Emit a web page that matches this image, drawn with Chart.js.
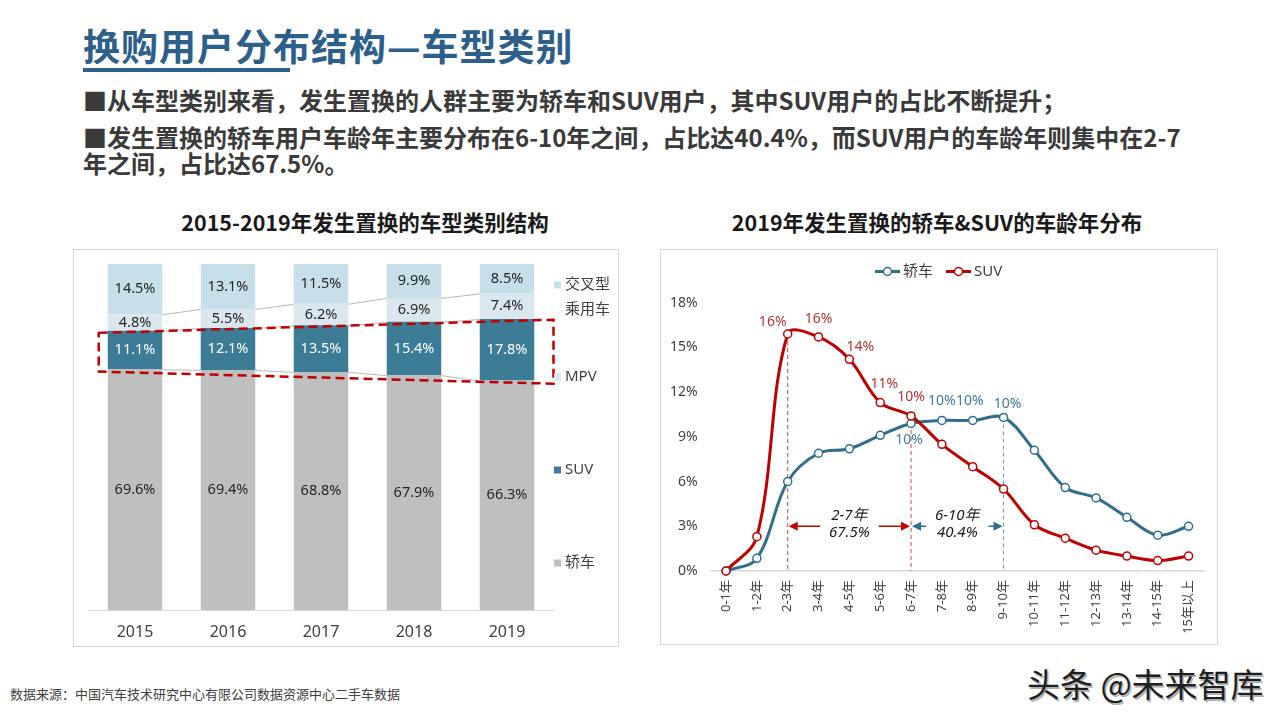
<!DOCTYPE html>
<html>
<head>
<meta charset="utf-8">
<script src="https://cdn.jsdelivr.net/npm/chart.js@4.4.1/dist/chart.umd.min.js"></script>
<style>
  html, body { margin:0; padding:0; background:#fff; }
  body { width:1280px; height:720px; position:relative; overflow:hidden;
         font-family:"Noto Sans","Noto Sans CJK SC",sans-serif; }
  .abs { position:absolute; }
  #title { left:83px; top:24px; font-size:37px; line-height:42px; font-weight:700; color:#2c5f8a;
           letter-spacing:1px; font-family:"Noto Sans CJK SC",sans-serif; white-space:nowrap; }
  #underline { left:83px; top:68px; width:207px; height:4px; background:#2c5f8a; }
  .bullet { left:83px; font-size:24px; font-weight:700; color:#3a3a3a; white-space:nowrap;
            font-family:"Noto Sans CJK SC",sans-serif; }
  .ptitle { top:207px; width:460px; text-align:center; font-size:21.5px; line-height:30px; font-weight:700;
            color:#1a1a1a; font-family:"Noto Sans CJK SC",sans-serif; white-space:nowrap; }
  .panel { box-sizing:border-box; border:1.5px solid #d6d6d6; pointer-events:none; }
  #source { left:10px; top:685px; font-size:13px; line-height:18px; color:#404040;
            font-family:"Noto Sans CJK SC",sans-serif; white-space:nowrap; }
  #mark { left:1027px; top:662px; font-size:33px; line-height:42px; color:#1e1e1e;
          font-family:"Noto Sans CJK SC",sans-serif; white-space:nowrap; text-shadow:1.5px 1.5px 0 #b0b0b0; }
</style>
</head>
<body>
<div id="title" class="abs">换购用户分布结构—车型类别</div>
<div id="underline" class="abs"></div>
<div class="abs bullet" style="top:86px;line-height:28px;">■从车型类别来看，发生置换的人群主要为轿车和SUV用户，其中SUV用户的占比不断提升；</div>
<div class="abs bullet" style="top:124px;line-height:26px;">■发生置换的轿车用户车龄年主要分布在6-10年之间，占比达40.4%，而SUV用户的车龄年则集中在2-7<br>年之间，占比达67.5%。</div>

<div class="abs ptitle" style="left:135px;">2015-2019年发生置换的车型类别结构</div>
<div class="abs ptitle" style="left:707px;">2019年发生置换的轿车&amp;SUV的车龄年分布</div>

<canvas id="barChart" class="abs" width="546" height="398" style="left:73px;top:249px;width:546px;height:398px;"></canvas>
<div class="abs panel" style="left:73px;top:249px;width:546px;height:398px;"></div>

<canvas id="lineChart" class="abs" width="558" height="396" style="left:660px;top:249px;width:558px;height:396px;"></canvas>
<div class="abs panel" style="left:660px;top:249px;width:558px;height:396px;"></div>

<div id="source" class="abs">数据来源：中国汽车技术研究中心有限公司数据资源中心二手车数据</div>
<div id="mark" class="abs">头条 @未来智库</div>

<script>
// ---------------- DATA ----------------
const years = ['2015', '2016', '2017', '2018', '2019'];
const sedanShare = [69.6, 69.4, 68.8, 67.9, 66.3];
const suvShare   = [11.1, 12.1, 13.5, 15.4, 17.8];
const mpvShare   = [4.8, 5.5, 6.2, 6.9, 7.4];
const crossShare = [14.5, 13.1, 11.5, 9.9, 8.5];
const barSeriesNames = ['轿车', 'SUV', 'MPV', '交叉型乘用车'];
// highlight box around the SUV band, in data units: [category index, percent]
const suvBoxCorners = [[-0.39, 80.1], [4.5, 83.9], [4.5, 65.4], [-0.39, 68.9]];

const ageBands = ['0-1年', '1-2年', '2-3年', '3-4年', '4-5年', '5-6年', '6-7年', '7-8年',
                  '8-9年', '9-10年', '10-11年', '11-12年', '12-13年', '13-14年', '14-15年', '15年以上'];
const sedanAge = [0, 0.85, 6.0, 7.9, 8.2, 9.1, 9.9, 10.1, 10.1, 10.3, 8.1, 5.6, 4.9, 3.6, 2.4, 3.0];
const suvAge   = [0, 2.3, 15.9, 15.7, 14.2, 11.3, 10.4, 8.5, 7.0, 5.5, 3.1, 2.2, 1.4, 1.0, 0.7, 1.0];
const yTicksPct = [0, 3, 6, 9, 12, 15, 18];
// labelled points: [series, index]
const suvLabelIdx = [2, 3, 4, 5, 6];
const sedanLabelIdx = [6, 7, 8, 9];
// ranges marked with arrows: from index, to index, texts
const ageRanges = [
  { from: 2, to: 6, text: ['2-7年', '67.5%'], series: 'suv' },
  { from: 6, to: 9, text: ['6-10年', '40.4%'], series: 'sedan' }
];
const rangeArrowLevel = 3; // percent
const guideLines = [ { idx: 2, series: 'suv' }, { idx: 6, series: 'suv' }, { idx: 9, series: 'sedan' } ];

// ---------------- STYLES ----------------
const C_CROSS = '#c6dfeb', C_MPV = '#dae7ee', C_SUVBAR = '#3c7c97', C_SEDANBAR = '#bfbfbf';
const C_RED = '#c00000', C_TEAL = '#2f6f8c';
const FONT = '"Noto Sans","Noto Sans CJK SC",sans-serif';

// ---------------- LEFT: stacked bars ----------------
const barPlugin = {
  id: 'barExtras',
  afterDatasetsDraw(chart) {
    const ctx = chart.ctx;
    const xs = chart.scales.x, ys = chart.scales.y;
    ctx.save();
    // series lines between bars (not for the top series, which always reaches 100%)
    ctx.strokeStyle = '#a6a6a6';
    ctx.lineWidth = 0.8;
    chart.data.datasets.forEach((ds, i) => {
      if (i === chart.data.datasets.length - 1) return;
      const meta = chart.getDatasetMeta(i);
      for (let j = 0; j < meta.data.length - 1; j++) {
        const a = meta.data[j].getProps(['x', 'y', 'width'], true);
        const b = meta.data[j + 1].getProps(['x', 'y', 'width'], true);
        ctx.beginPath();
        ctx.moveTo(a.x + a.width / 2, a.y + 0.5);
        ctx.lineTo(b.x - b.width / 2, b.y + 0.5);
        ctx.stroke();
      }
    });
    // labels
    ctx.font = '14.5px ' + FONT;
    ctx.textAlign = 'center';
    ctx.textBaseline = 'middle';
    chart.data.datasets.forEach((ds, i) => {
      const meta = chart.getDatasetMeta(i);
      meta.data.forEach((el, j) => {
        const p = el.getProps(['x', 'y', 'base'], true);
        ctx.fillStyle = ds.labelColor;
        ctx.fillText(ds.data[j].toFixed(1) + '%', p.x, (Math.max(p.y, chart.chartArea.top) + p.base) / 2);
      });
    });
    // dashed highlight box
    ctx.strokeStyle = C_RED;
    ctx.lineWidth = 2.5;
    ctx.setLineDash([9, 5]);
    ctx.beginPath();
    suvBoxCorners.forEach((c, k) => {
      const px = xs.getPixelForValue(c[0]), py = ys.getPixelForValue(c[1]);
      if (k === 0) ctx.moveTo(px, py); else ctx.lineTo(px, py);
    });
    ctx.closePath();
    ctx.stroke();
    ctx.setLineDash([]);
    ctx.restore();
  },
  afterDraw(chart) {
    // legend (right side)
    const ctx = chart.ctx;
    ctx.save();
    ctx.font = '15px ' + FONT;
    ctx.textBaseline = 'middle';
    ctx.fillStyle = '#404040';
    const items = [
      { color: C_CROSS, lines: ['交叉型', '乘用车'], y: 36 },
      { color: C_MPV, lines: ['MPV'], y: 128 },
      { color: C_SUVBAR, lines: ['SUV'], y: 221 },
      { color: C_SEDANBAR, lines: ['轿车'], y: 314 }
    ];
    items.forEach(it => {
      ctx.fillStyle = it.color;
      ctx.fillRect(481, it.y - 3.5, 7, 7);
      ctx.fillStyle = '#404040';
      it.lines.forEach((t, k) => ctx.fillText(t, 492, it.y + k * 25));
    });
    ctx.restore();
  }
};

new Chart(document.getElementById('barChart'), {
  type: 'bar',
  data: {
    labels: years,
    datasets: [
      { label: barSeriesNames[0], data: sedanShare, backgroundColor: C_SEDANBAR, labelColor: '#262626' },
      { label: barSeriesNames[1], data: suvShare, backgroundColor: C_SUVBAR, labelColor: '#ffffff' },
      { label: barSeriesNames[2], data: mpvShare, backgroundColor: C_MPV, labelColor: '#262626' },
      { label: barSeriesNames[3], data: crossShare, backgroundColor: C_CROSS, labelColor: '#262626' }
    ]
  },
  options: {
    responsive: false,
    animation: false,
    devicePixelRatio: 1,
    layout: { padding: { left: 15.5, right: 65.5, top: 15, bottom: 0 } },
    datasets: { bar: { barPercentage: 0.586, categoryPercentage: 1, borderWidth: 0 } },
    plugins: { legend: { display: false }, tooltip: { enabled: false } },
    scales: {
      x: {
        stacked: true, offset: true,
        grid: { display: false, drawTicks: false },
        border: { display: true, color: '#d9d9d9', width: 1 },
        ticks: { color: '#404040', font: { size: 16, family: FONT }, padding: 13 },
        afterFit: s => { s.height = 37; }
      },
      y: { stacked: true, display: false, min: 0, max: 100 }
    }
  },
  plugins: [barPlugin]
});

// ---------------- RIGHT: age distribution lines ----------------
function seriesArr(name) { return name === 'suv' ? suvAge : sedanAge; }
function seriesColor(name) { return name === 'suv' ? C_RED : C_TEAL; }

const linePlugin = {
  id: 'lineExtras',
  beforeDatasetsDraw(chart) {
    const ctx = chart.ctx, xs = chart.scales.x, ys = chart.scales.y;
    ctx.save();
    ctx.lineWidth = 1;
    ctx.setLineDash([4, 3]);
    guideLines.forEach(g => {
      const x = xs.getPixelForValue(g.idx);
      const y = ys.getPixelForValue(seriesArr(g.series)[g.idx]);
      ctx.strokeStyle = g.series === 'suv' ? '#d24848' : '#7694a4';
      ctx.beginPath();
      ctx.moveTo(x, y);
      ctx.lineTo(x, ys.getPixelForValue(0));
      ctx.stroke();
    });
    ctx.setLineDash([]);
    ctx.restore();
  },
  afterDatasetsDraw(chart) {
    const ctx = chart.ctx, xs = chart.scales.x, ys = chart.scales.y;
    ctx.save();
    // range arrows
    const ay = ys.getPixelForValue(rangeArrowLevel);
    ageRanges.forEach(r => {
      const x1 = xs.getPixelForValue(r.from), x2 = xs.getPixelForValue(r.to);
      const xc = (x1 + x2) / 2;
      const col = seriesColor(r.series);
      ctx.font = 'italic 15px ' + FONT;
      const tw = Math.max(...r.text.map(t => ctx.measureText(t).width));
      const gap = tw / 2 + 9;
      ctx.strokeStyle = col; ctx.fillStyle = col; ctx.lineWidth = 1.5;
      ctx.beginPath();
      ctx.moveTo(x1 + 8, ay); ctx.lineTo(xc - gap, ay);
      ctx.moveTo(xc + gap, ay); ctx.lineTo(x2 - 8, ay);
      ctx.stroke();
      ctx.beginPath();
      ctx.moveTo(x1 + 1, ay); ctx.lineTo(x1 + 10, ay - 4.5); ctx.lineTo(x1 + 10, ay + 4.5); ctx.closePath();
      ctx.moveTo(x2 - 1, ay); ctx.lineTo(x2 - 10, ay - 4.5); ctx.lineTo(x2 - 10, ay + 4.5); ctx.closePath();
      ctx.fill();
      ctx.fillStyle = '#1a1a1a';
      ctx.textAlign = 'center'; ctx.textBaseline = 'middle';
      ctx.fillText(r.text[0], xc, ay - 11);
      ctx.fillText(r.text[1], xc, ay + 6);
    });
    // point labels
    ctx.font = '14px ' + FONT;
    ctx.textAlign = 'center'; ctx.textBaseline = 'middle';
    const suvOffsets = { 2: [-15, -12], 3: [0, -18], 4: [11, -12], 5: [4, -19], 6: [0, -19] };
    const sedOffsets = { 6: [-2, 17], 7: [0, -19], 8: [-3, -19], 9: [4, -13] };
    ctx.fillStyle = '#b73333';
    suvLabelIdx.forEach(i => {
      const o = suvOffsets[i];
      ctx.fillText(Math.round(suvAge[i]) + '%', xs.getPixelForValue(i) + o[0], ys.getPixelForValue(suvAge[i]) + o[1]);
    });
    ctx.fillStyle = '#3a7d99';
    sedanLabelIdx.forEach(i => {
      const o = sedOffsets[i];
      ctx.fillText(Math.round(sedanAge[i]) + '%', xs.getPixelForValue(i) + o[0], ys.getPixelForValue(sedanAge[i]) + o[1]);
    });
    ctx.restore();
  },
  afterDraw(chart) {
    const ctx = chart.ctx;
    ctx.save();
    const ly = 22.5;
    const items = [ { name: '轿车', color: C_TEAL, x: 215 }, { name: 'SUV', color: C_RED, x: 286 } ];
    ctx.font = '15px ' + FONT;
    ctx.textBaseline = 'middle';
    items.forEach(it => {
      ctx.strokeStyle = it.color; ctx.lineWidth = 3;
      ctx.beginPath(); ctx.moveTo(it.x, ly); ctx.lineTo(it.x + 25, ly); ctx.stroke();
      ctx.beginPath(); ctx.arc(it.x + 12.5, ly, 4, 0, Math.PI * 2);
      ctx.fillStyle = '#fff'; ctx.fill(); ctx.lineWidth = 1.5; ctx.stroke();
      ctx.fillStyle = '#404040';
      ctx.fillText(it.name, it.x + 28, ly);
    });
    ctx.restore();
  }
};

new Chart(document.getElementById('lineChart'), {
  type: 'line',
  data: {
    labels: ageBands,
    datasets: [
      { label: '轿车', data: sedanAge, borderColor: C_TEAL, backgroundColor: C_TEAL, borderWidth: 3,
        tension: 0.35, pointRadius: 4, pointBackgroundColor: '#fff', pointBorderColor: C_TEAL,
        pointBorderWidth: 1.5, order: 1, clip: false },
      { label: 'SUV', data: suvAge, borderColor: C_RED, backgroundColor: C_RED, borderWidth: 3,
        tension: 0.35, pointRadius: 4, pointBackgroundColor: '#fff', pointBorderColor: C_RED,
        pointBorderWidth: 1.5, order: 0, clip: false }
    ]
  },
  options: {
    responsive: false,
    animation: false,
    devicePixelRatio: 1,
    layout: { padding: { left: 0, right: 14, top: 53.7, bottom: 0 } },
    plugins: { legend: { display: false }, tooltip: { enabled: false } },
    scales: {
      x: {
        offset: true,
        grid: { display: false, drawTicks: false },
        border: { display: true, color: '#d9d9d9', width: 1.5 },
        ticks: { color: '#404040', font: { size: 13, family: FONT }, minRotation: 90, maxRotation: 90,
                 autoSkip: false, padding: 9 },
        afterFit: s => { s.height = 74; }
      },
      y: {
        min: 0, max: 18,
        grid: { display: false, drawTicks: false },
        border: { display: false },
        afterBuildTicks: s => { s.ticks = yTicksPct.map(v => ({ value: v })); },
        ticks: { color: '#404040', font: { size: 14, family: FONT }, padding: 13,
                 callback: v => v + '%' },
        afterFit: s => { s.width = 50.6; }
      }
    }
  },
  plugins: [linePlugin]
});
</script>
</body>
</html>
